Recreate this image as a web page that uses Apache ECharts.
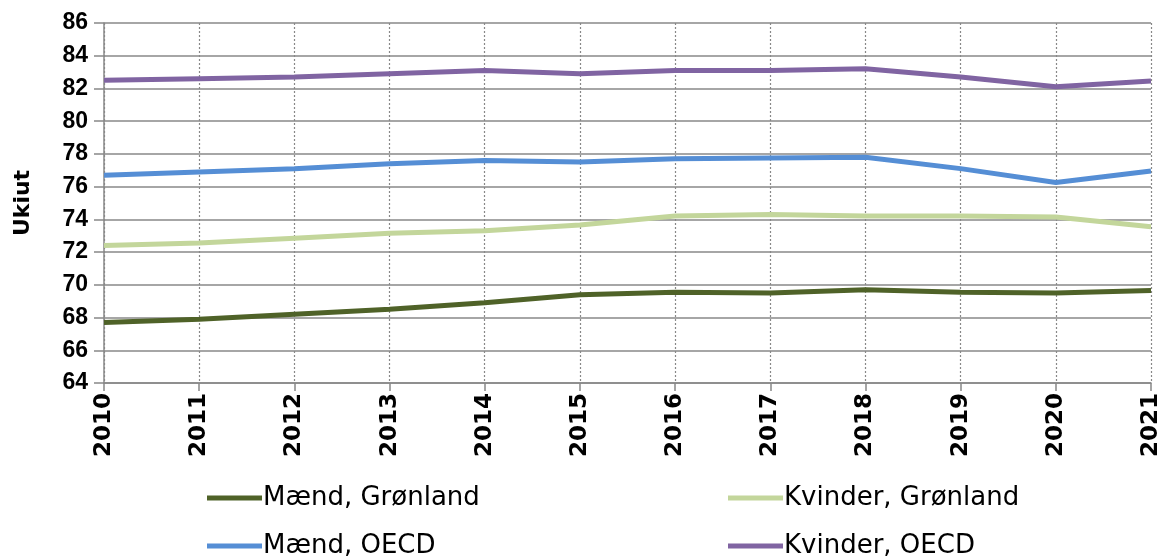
<!DOCTYPE html>
<html>
<head>
<meta charset="utf-8">
<script src="https://cdn.jsdelivr.net/npm/echarts@6/dist/echarts.min.js"></script>
<style>html,body{margin:0;padding:0;background:#fff}#c{width:1165px;height:560px}</style>
</head>
<body>
<div id="c"></div>
<script>
var years = ['2010','2011','2012','2013','2014','2015','2016','2017','2018','2019','2020','2021'];
var maendGronland = [67.7, 67.9, 68.2, 68.5, 68.9, 69.4, 69.55, 69.5, 69.7, 69.55, 69.5, 69.65];
var kvinderGronland = [72.4, 72.55, 72.85, 73.15, 73.3, 73.65, 74.2, 74.3, 74.2, 74.2, 74.15, 73.55];
var maendOECD = [76.7, 76.9, 77.1, 77.4, 77.6, 77.5, 77.7, 77.75, 77.8, 77.1, 76.25, 76.95];
var kvinderOECD = [82.5, 82.6, 82.7, 82.9, 83.1, 82.9, 83.1, 83.1, 83.2, 82.7, 82.1, 82.45];
var yMin = 64, yMax = 86, yStep = 2;

var chart = echarts.init(document.getElementById('c'));
function s(name, data, color) {
  return {name: name, type: 'line', data: data, symbol: 'none',
    lineStyle: {width: 5, color: color}, itemStyle: {color: color}};
}
var legendText = {fontFamily: 'DejaVu Sans', fontSize: 26, color: '#000', padding: [0, 0, 0, -4]};
function lg(name, left, top) {
  return {data: [name], left: left, top: top, itemWidth: 55, itemHeight: 5,
    textStyle: legendText, icon: 'rect', padding: 0};
}
chart.setOption({
  animation: false,
  grid: {left: 104, right: 14, top: 23, bottom: 177},
  legend: [
    lg('Mænd, Grønland', 207, 485),
    lg('Kvinder, Grønland', 728, 485),
    lg('Mænd, OECD', 207, 533),
    lg('Kvinder, OECD', 728, 533)
  ],
  xAxis: {
    type: 'category', data: years, boundaryGap: false,
    axisLine: {lineStyle: {color: '#888', width: 1.5}},
    axisTick: {show: true, length: 8, alignWithLabel: true, lineStyle: {color: '#888', width: 1.5}},
    axisLabel: {rotate: 90, fontFamily: 'DejaVu Sans', fontWeight: 'bold', fontSize: 23, color: '#000', margin: 10},
    splitLine: {show: true, lineStyle: {color: '#888', type: [2, 2], width: 1.2}}
  },
  yAxis: {
    type: 'value', min: yMin, max: yMax, interval: yStep,
    name: 'Ukiut', nameLocation: 'middle', nameGap: 70,
    nameTextStyle: {fontFamily: 'DejaVu Sans', fontWeight: 'bold', fontSize: 22, color: '#000'},
    axisLine: {show: true, lineStyle: {color: '#888', width: 1.5}},
    axisTick: {show: true, length: 10, lineStyle: {color: '#888', width: 1.5}},
    axisLabel: {fontFamily: 'Liberation Sans', fontWeight: 'bold', fontSize: 23, color: '#000', margin: 16},
    splitLine: {show: true, lineStyle: {color: '#888', width: 1.5}}
  },
  series: [
    s('Mænd, Grønland', maendGronland, '#4F6228'),
    s('Kvinder, Grønland', kvinderGronland, '#C3D69B'),
    s('Mænd, OECD', maendOECD, '#558ED5'),
    s('Kvinder, OECD', kvinderOECD, '#8064A2')
  ]
});
</script>
</body>
</html>
